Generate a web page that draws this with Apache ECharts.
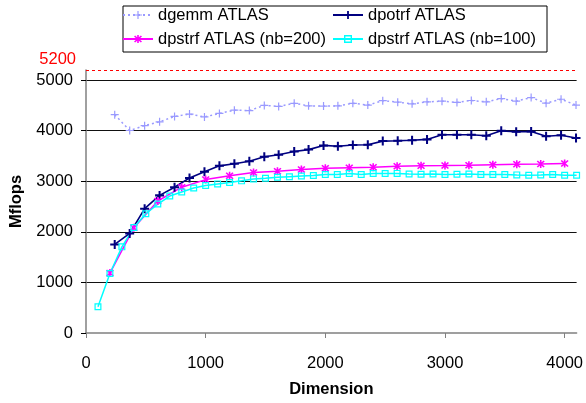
<!DOCTYPE html>
<html>
<head>
<meta charset="utf-8">
<script src="https://cdn.jsdelivr.net/npm/echarts@6/dist/echarts.min.js"></script>
<style>html,body{margin:0;padding:0;background:#fff;}#c{width:586px;height:403px;}</style>
</head>
<body>
<div id="c"></div>
<script>
// ---- data ----
const seriesNames = ['dgemm ATLAS', 'dpotrf ATLAS', 'dpstrf ATLAS (nb=200)', 'dpstrf ATLAS (nb=100)'];
const xTickLabels = ['0', '1000', '2000', '3000', '4000'];
const yTickLabels = ['0', '1000', '2000', '3000', '4000', '5000'];
const peakValue = 5200;
const peakLabel = '5200';
const xName = 'Dimension';
const yName = 'Mflops';

const dimsA = [240,365,490,615,740,865,990,1115,1240,1365,1490,1610,1740,1860,1985,2105,2230,2355,2480,2605,2725,2850,2975,3100,3220,3345,3470,3595,3720,3845,3970,4095];
const dgemm = [4316,4004,4100,4176,4283,4329,4272,4341,4406,4398,4500,4480,4542,4491,4486,4491,4542,4507,4593,4564,4532,4570,4584,4559,4597,4570,4636,4584,4655,4545,4622,4507];
const dpotrf = [1751,1968,2458,2721,2883,3065,3187,3305,3346,3397,3485,3525,3589,3626,3709,3693,3717,3722,3794,3800,3812,3828,3920,3920,3920,3901,3997,3980,3985,3889,3911,3856];

const dimsB = [200,400,600,800,1000,1200,1400,1600,1800,2000,2200,2400,2600,2800,3000,3200,3400,3600,3800,4000];
const dpstrf200 = [1185,2080,2610,2883,3033,3110,3174,3200,3231,3257,3269,3276,3295,3305,3310,3318,3328,3336,3342,3352];

const dimsC = [100,200,300,400,500,600,700,800,900,1000,1100,1200,1300,1400,1500,1600,1700,1800,1900,2000,2100,2200,2300,2400,2500,2600,2700,2800,2900,3000,3100,3200,3300,3400,3500,3600,3700,3800,3900,4000,4100];
const dpstrf100 = [520,1177,1703,2085,2358,2549,2708,2788,2867,2915,2948,2976,3008,3047,3059,3078,3091,3104,3116,3135,3135,3154,3135,3154,3154,3156,3145,3138,3142,3135,3138,3145,3135,3135,3135,3126,3120,3125,3133,3120,3118];

// ---- styling ----
const FONT = 'Liberation Sans, Arial, sans-serif';
const FS = 16.5;
const plusThin = 'path://M0,3.4H3.4V0H4.6V3.4H8V4.6H4.6V8H3.4V4.6H0Z';
const plusBold = 'path://M0,3.1H3.1V0H4.9V3.1H8V4.9H4.9V8H3.1V4.9H0Z';
const asterisk = 'path://M3.3,0H4.7V8H3.3Z M0.5,1.5L1.5,0.5L7.5,6.5L6.5,7.5Z M6.5,0.5L7.5,1.5L1.5,7.5L0.5,6.5Z';
const squareRing = 'path://M0,0H8V8H0Z M1.4,1.4V6.6H6.6V1.4Z';

function pairs(xs, ys) { return xs.map((x, i) => [x, ys[i]]); }
function tickFormatter(labels) {
  return function (v) { const s = String(v); return labels.indexOf(s) >= 0 ? s : ''; };
}

const chart = echarts.init(document.getElementById('c'), null, {renderer: 'canvas'});
const legendText = {fontFamily: FONT, fontSize: FS, color: '#000', lineHeight: 20};
chart.setOption({
  animation: false,
  backgroundColor: '#fff',
  grid: {left: 86, top: 70, width: 493, height: 271.5, containLabel: false},
  legend: [
    {data: [seriesNames[0], seriesNames[2]], orient: 'vertical', left: 122, top: 5, padding: 0,
     itemWidth: 30, itemHeight: 10, itemGap: 4, textStyle: legendText},
    {data: [seriesNames[1], seriesNames[3]], orient: 'vertical', left: 332, top: 5, padding: 0,
     itemWidth: 30, itemHeight: 10, itemGap: 4, textStyle: legendText}
  ],
  graphic: [{type: 'rect', left: 120.5, top: 3.5, shape: {width: 424, height: 46},
             style: {fill: 'none', stroke: '#000', lineWidth: 1}, silent: true}],
  xAxis: {
    type: 'value', min: 0, max: 4100, interval: 1000,
    name: xName, nameLocation: 'middle', nameGap: 48,
    nameTextStyle: {fontFamily: FONT, fontSize: FS, fontWeight: 'bold', color: '#000'},
    axisLine: {lineStyle: {color: '#808080', width: 1.5}},
    axisTick: {length: 5, lineStyle: {color: '#808080'}},
    axisLabel: {fontFamily: FONT, fontSize: FS, color: '#000', margin: 22,
                showMaxLabel: false, formatter: tickFormatter(xTickLabels)},
    splitLine: {show: false}
  },
  yAxis: {
    type: 'value', min: 0, max: peakValue, interval: 1000,
    name: yName, nameLocation: 'middle', nameGap: 52, nameRotate: 90,
    nameTextStyle: {fontFamily: FONT, fontSize: FS, fontWeight: 'bold', color: '#000'},
    axisLine: {show: true, lineStyle: {color: '#808080', width: 1.5}},
    axisTick: {show: true, length: 5, lineStyle: {color: '#000'}},
    axisLabel: {fontFamily: FONT, fontSize: FS, color: '#000', margin: 13,
                showMaxLabel: false, formatter: tickFormatter(yTickLabels)},
    splitLine: {show: true, showMinLine: false, showMaxLine: false, lineStyle: {color: '#111', width: 1}}
  },
  series: [
    {name: seriesNames[0], type: 'line', data: pairs(dimsA, dgemm), clip: false, showAllSymbol: true,
     symbol: plusThin, symbolSize: 8, color: '#9a9aff',
     lineStyle: {width: 1.5, type: [2, 3], color: '#9a9aff'},
     markLine: {silent: true, symbol: 'none',
       lineStyle: {color: '#ff0000', type: [3, 3], width: 1},
       label: {show: true, position: 'start', formatter: peakLabel, color: '#ff0000',
               fontFamily: FONT, fontSize: FS, distance: 10, offset: [0, -11]},
       data: [{yAxis: peakValue}]}},
    {name: seriesNames[1], type: 'line', data: pairs(dimsA, dpotrf), clip: false, showAllSymbol: true,
     symbol: plusBold, symbolSize: 9, color: '#000080',
     lineStyle: {width: 1.6, color: '#000080'}},
    {name: seriesNames[2], type: 'line', data: pairs(dimsB, dpstrf200), clip: false, showAllSymbol: true,
     symbol: asterisk, symbolSize: 8, color: '#ff00ff',
     lineStyle: {width: 1.5, color: '#ff00ff'}},
    {name: seriesNames[3], type: 'line', data: pairs(dimsC, dpstrf100), clip: false, showAllSymbol: true,
     symbol: squareRing, symbolSize: 7, color: '#00ffff',
     lineStyle: {width: 1.5, color: '#00ffff'}}
  ]
});
</script>
</body>
</html>
